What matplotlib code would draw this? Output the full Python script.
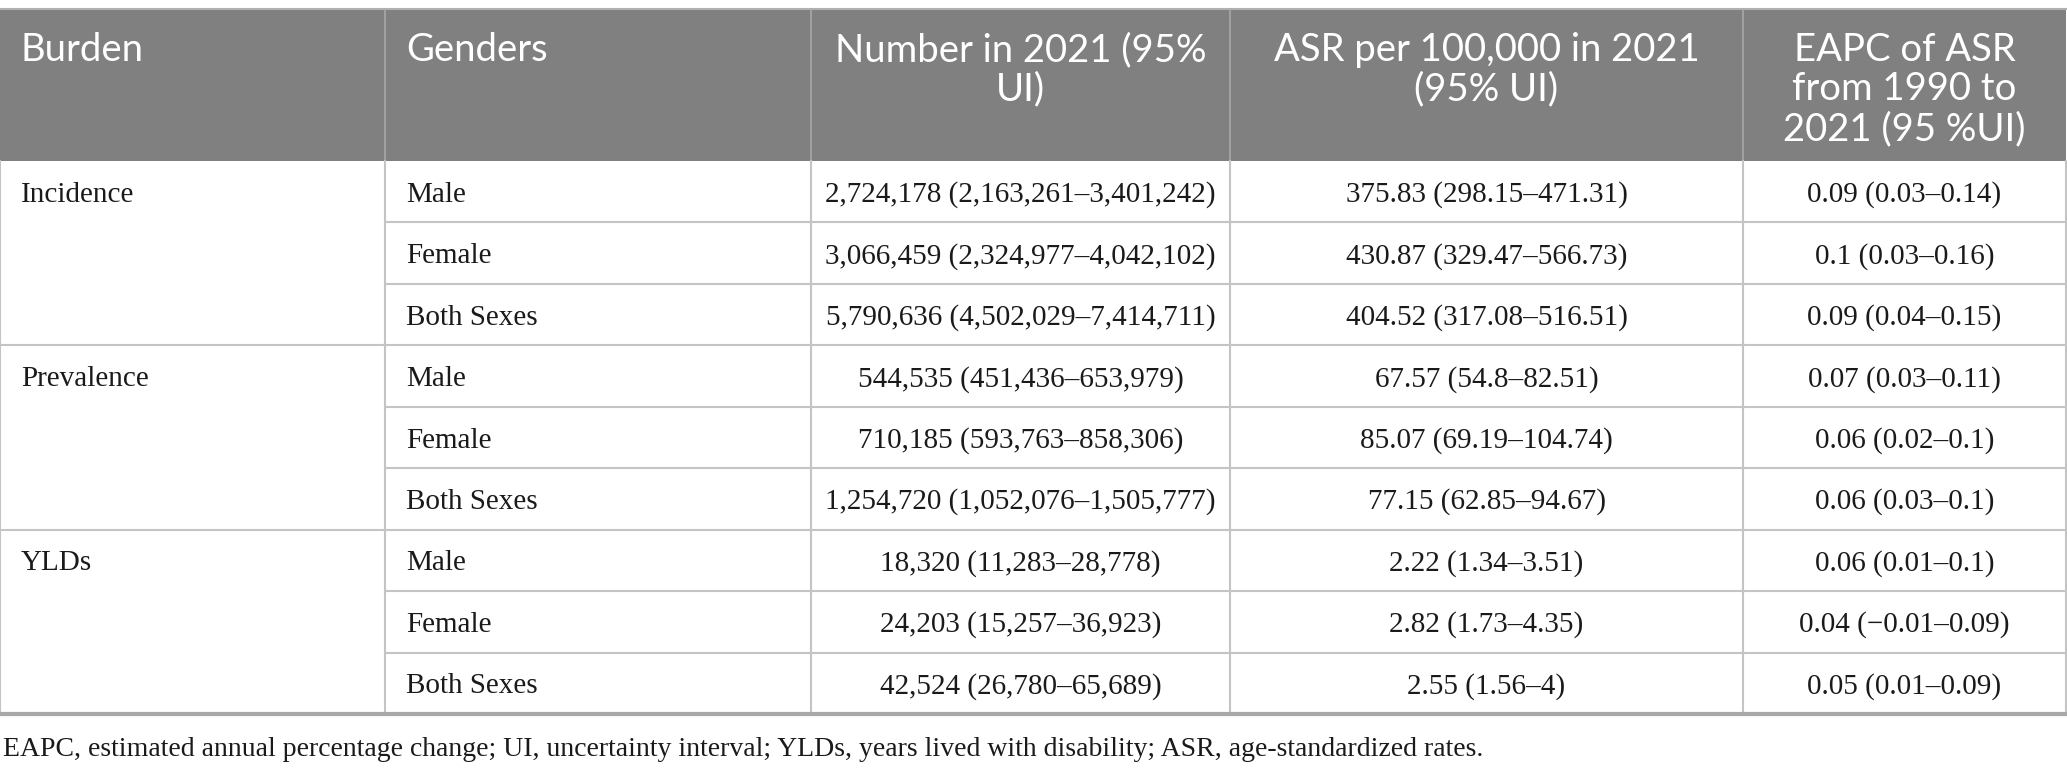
import matplotlib
matplotlib.use("Agg")
import matplotlib.pyplot as plt

# ---- data ----
headers = ["Burden", "Genders", "Number in 2021 (95%\nUI)",
           "ASR per 100,000 in 2021\n(95% UI)",
           "EAPC of ASR\nfrom 1990 to\n2021 (95 %UI)"]
burdens = ["Incidence", "Prevalence", "YLDs"]
genders = ["Male", "Female", "Both Sexes"]
numbers = [
    "2,724,178 (2,163,261–3,401,242)",
    "3,066,459 (2,324,977–4,042,102)",
    "5,790,636 (4,502,029–7,414,711)",
    "544,535 (451,436–653,979)",
    "710,185 (593,763–858,306)",
    "1,254,720 (1,052,076–1,505,777)",
    "18,320 (11,283–28,778)",
    "24,203 (15,257–36,923)",
    "42,524 (26,780–65,689)",
]
asr = [
    "375.83 (298.15–471.31)",
    "430.87 (329.47–566.73)",
    "404.52 (317.08–516.51)",
    "67.57 (54.8–82.51)",
    "85.07 (69.19–104.74)",
    "77.15 (62.85–94.67)",
    "2.22 (1.34–3.51)",
    "2.82 (1.73–4.35)",
    "2.55 (1.56–4)",
]
eapc = [
    "0.09 (0.03–0.14)",
    "0.1 (0.03–0.16)",
    "0.09 (0.04–0.15)",
    "0.07 (0.03–0.11)",
    "0.06 (0.02–0.1)",
    "0.06 (0.03–0.1)",
    "0.06 (0.01–0.1)",
    "0.04 (−0.01–0.09)",
    "0.05 (0.01–0.09)",
]
footnote = ("EAPC, estimated annual percentage change; UI, uncertainty interval; "
            "YLDs, years lived with disability; ASR, age-standardized rates.")

# ---- layout (pixel coordinates) ----
W, H = 2067, 770
col_x = [0, 385, 811, 1230, 1743, 2066]
head_top, head_bot = 10, 161
row_h = (714 - 161) / 9.0
row_y = [head_bot + i * row_h for i in range(10)]

header_bg = "#808080"
grid = "#c4c4c4"
serif = ["Liberation Serif", "DejaVu Serif"]
sans = ["Lato", "DejaVu Sans"]

fig = plt.figure(figsize=(W / 100, H / 100), dpi=100)
ax = fig.add_axes([0, 0, 1, 1])
ax.set_xlim(0, W)
ax.set_ylim(H, 0)
ax.axis("off")

# header background
ax.add_patch(plt.Rectangle((0, head_top), W - 1, head_bot - head_top,
                           facecolor=header_bg, edgecolor="none"))
ax.plot([0, W], [head_top - 1, head_top - 1], color="#b0b0b0", lw=1.5)

# header vertical separators
for x in col_x[1:-1]:
    ax.plot([x, x], [head_top, head_bot], color="#a8a8a8", lw=1.2)

# body vertical lines
for x in col_x:
    ax.plot([x, x], [head_bot, row_y[-1]], color=grid, lw=1.5)

# horizontal lines
for i, y in enumerate(row_y[1:-1], start=1):
    x0 = 0 if i % 3 == 0 else col_x[1]
    ax.plot([x0, W], [y, y], color=grid, lw=1.5)
ax.plot([0, W], [row_y[-1], row_y[-1]], color="#a8a8a8", lw=3)

# header texts
hfs = 27.5
for j, h in enumerate(headers):
    if j < 2:
        ax.text(col_x[j] + 21, head_top + 22, h, ha="left", va="top",
                color="white", fontsize=hfs, family=sans,
                linespacing=1.12)
    else:
        ax.text((col_x[j] + col_x[j + 1]) / 2, head_top + 22, h, ha="center",
                va="top", color="white", fontsize=hfs, family=sans,
                linespacing=1.12)

# body texts
bfs = 21
for i in range(9):
    yc = (row_y[i] + row_y[i + 1]) / 2 + 3
    if i % 3 == 0:
        ax.text(col_x[0] + 21, yc, burdens[i // 3], ha="left", va="center",
                fontsize=bfs, family=serif, color="#1a1a1a")
    ax.text(col_x[1] + 21, yc, genders[i % 3], ha="left", va="center",
            fontsize=bfs, family=serif, color="#1a1a1a")
    for j, col in enumerate([numbers, asr, eapc], start=2):
        ax.text((col_x[j] + col_x[j + 1]) / 2, yc, col[i], ha="center",
                va="center", fontsize=bfs, family=serif, color="#1a1a1a")

ax.text(3, 749, footnote, ha="left", va="center", fontsize=20,
        family=serif, color="#1a1a1a")

fig.savefig("out.png", dpi=100)
